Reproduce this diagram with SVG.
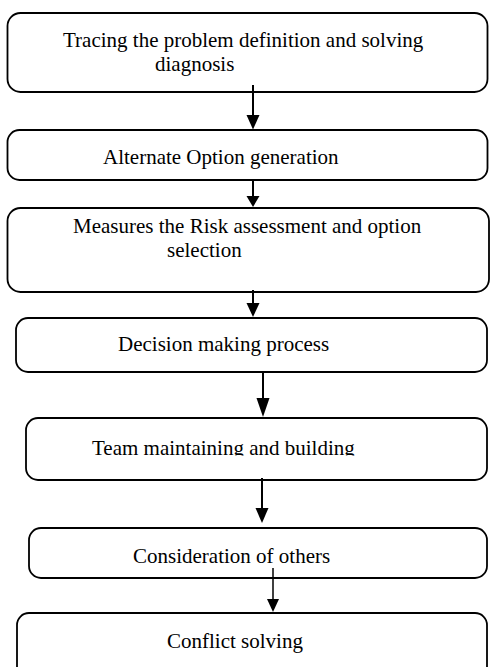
<svg xmlns="http://www.w3.org/2000/svg" width="490" height="667" viewBox="0 0 490 667">
<style>
.box{fill:#fff;stroke:#000;stroke-width:1.8}
.t{font-family:"Liberation Serif","Times New Roman",serif;font-size:21px;fill:#000}
.c{stroke:#000;stroke-width:2;fill:none}
.h{fill:#000}
</style>
<defs>
<clipPath id="cut5"><rect x="0" y="400" width="490" height="55.5"/></clipPath>
</defs>
<rect width="490" height="667" fill="#fff"/>
<g id="n1"><rect class="box" x="7.5" y="13" width="480" height="79" rx="13"/>
<text class="t" x="63" y="47">Tracing the problem definition and solving</text>
<text class="t" x="155" y="70.5">diagnosis</text></g>
<g id="n2"><rect class="box" x="7.5" y="130" width="480" height="50" rx="12"/>
<text class="t" x="103" y="164">Alternate Option generation</text></g>
<g id="n3"><rect class="box" x="7.5" y="208" width="481.5" height="84" rx="13"/>
<text class="t" x="73" y="233">Measures the Risk assessment and option</text>
<text class="t" x="167" y="257">selection</text></g>
<g id="n4"><rect class="box" x="16" y="318" width="471" height="54" rx="12"/>
<text class="t" x="118" y="351">Decision making process</text></g>
<g id="n5"><rect class="box" x="26" y="418" width="461" height="62" rx="12"/>
<text class="t" x="92" y="455" clip-path="url(#cut5)">Team maintaining and building</text></g>
<g id="n6"><rect class="box" x="29" y="528" width="458" height="50" rx="12"/>
<text class="t" x="133" y="563">Consideration of others</text></g>
<g id="n7"><rect class="box" x="17" y="613" width="470" height="70" rx="12"/>
<text class="t" x="167" y="648">Conflict solving</text></g>
<g id="connectors">
<line class="c" x1="253" y1="85" x2="253" y2="116"/><polygon class="h" points="246.5,115 259.5,115 253,129.5"/>
<line class="c" x1="253" y1="180" x2="253" y2="198"/><polygon class="h" points="246.5,196 259.5,196 253,207"/>
<line class="c" x1="253" y1="290" x2="253" y2="304"/><polygon class="h" points="246.5,303 259.5,303 253,317"/>
<line class="c" x1="263" y1="372" x2="263" y2="399"/><polygon class="h" points="256.5,398 269.5,398 263,417"/>
<line class="c" x1="262" y1="478" x2="262" y2="509"/><polygon class="h" points="255.5,508 268.5,508 262,523"/>
<line class="c" style="stroke-width:1.5" x1="273" y1="568" x2="273" y2="600"/><polygon class="h" points="267,599 279,599 273,612"/>
</g>
</svg>
